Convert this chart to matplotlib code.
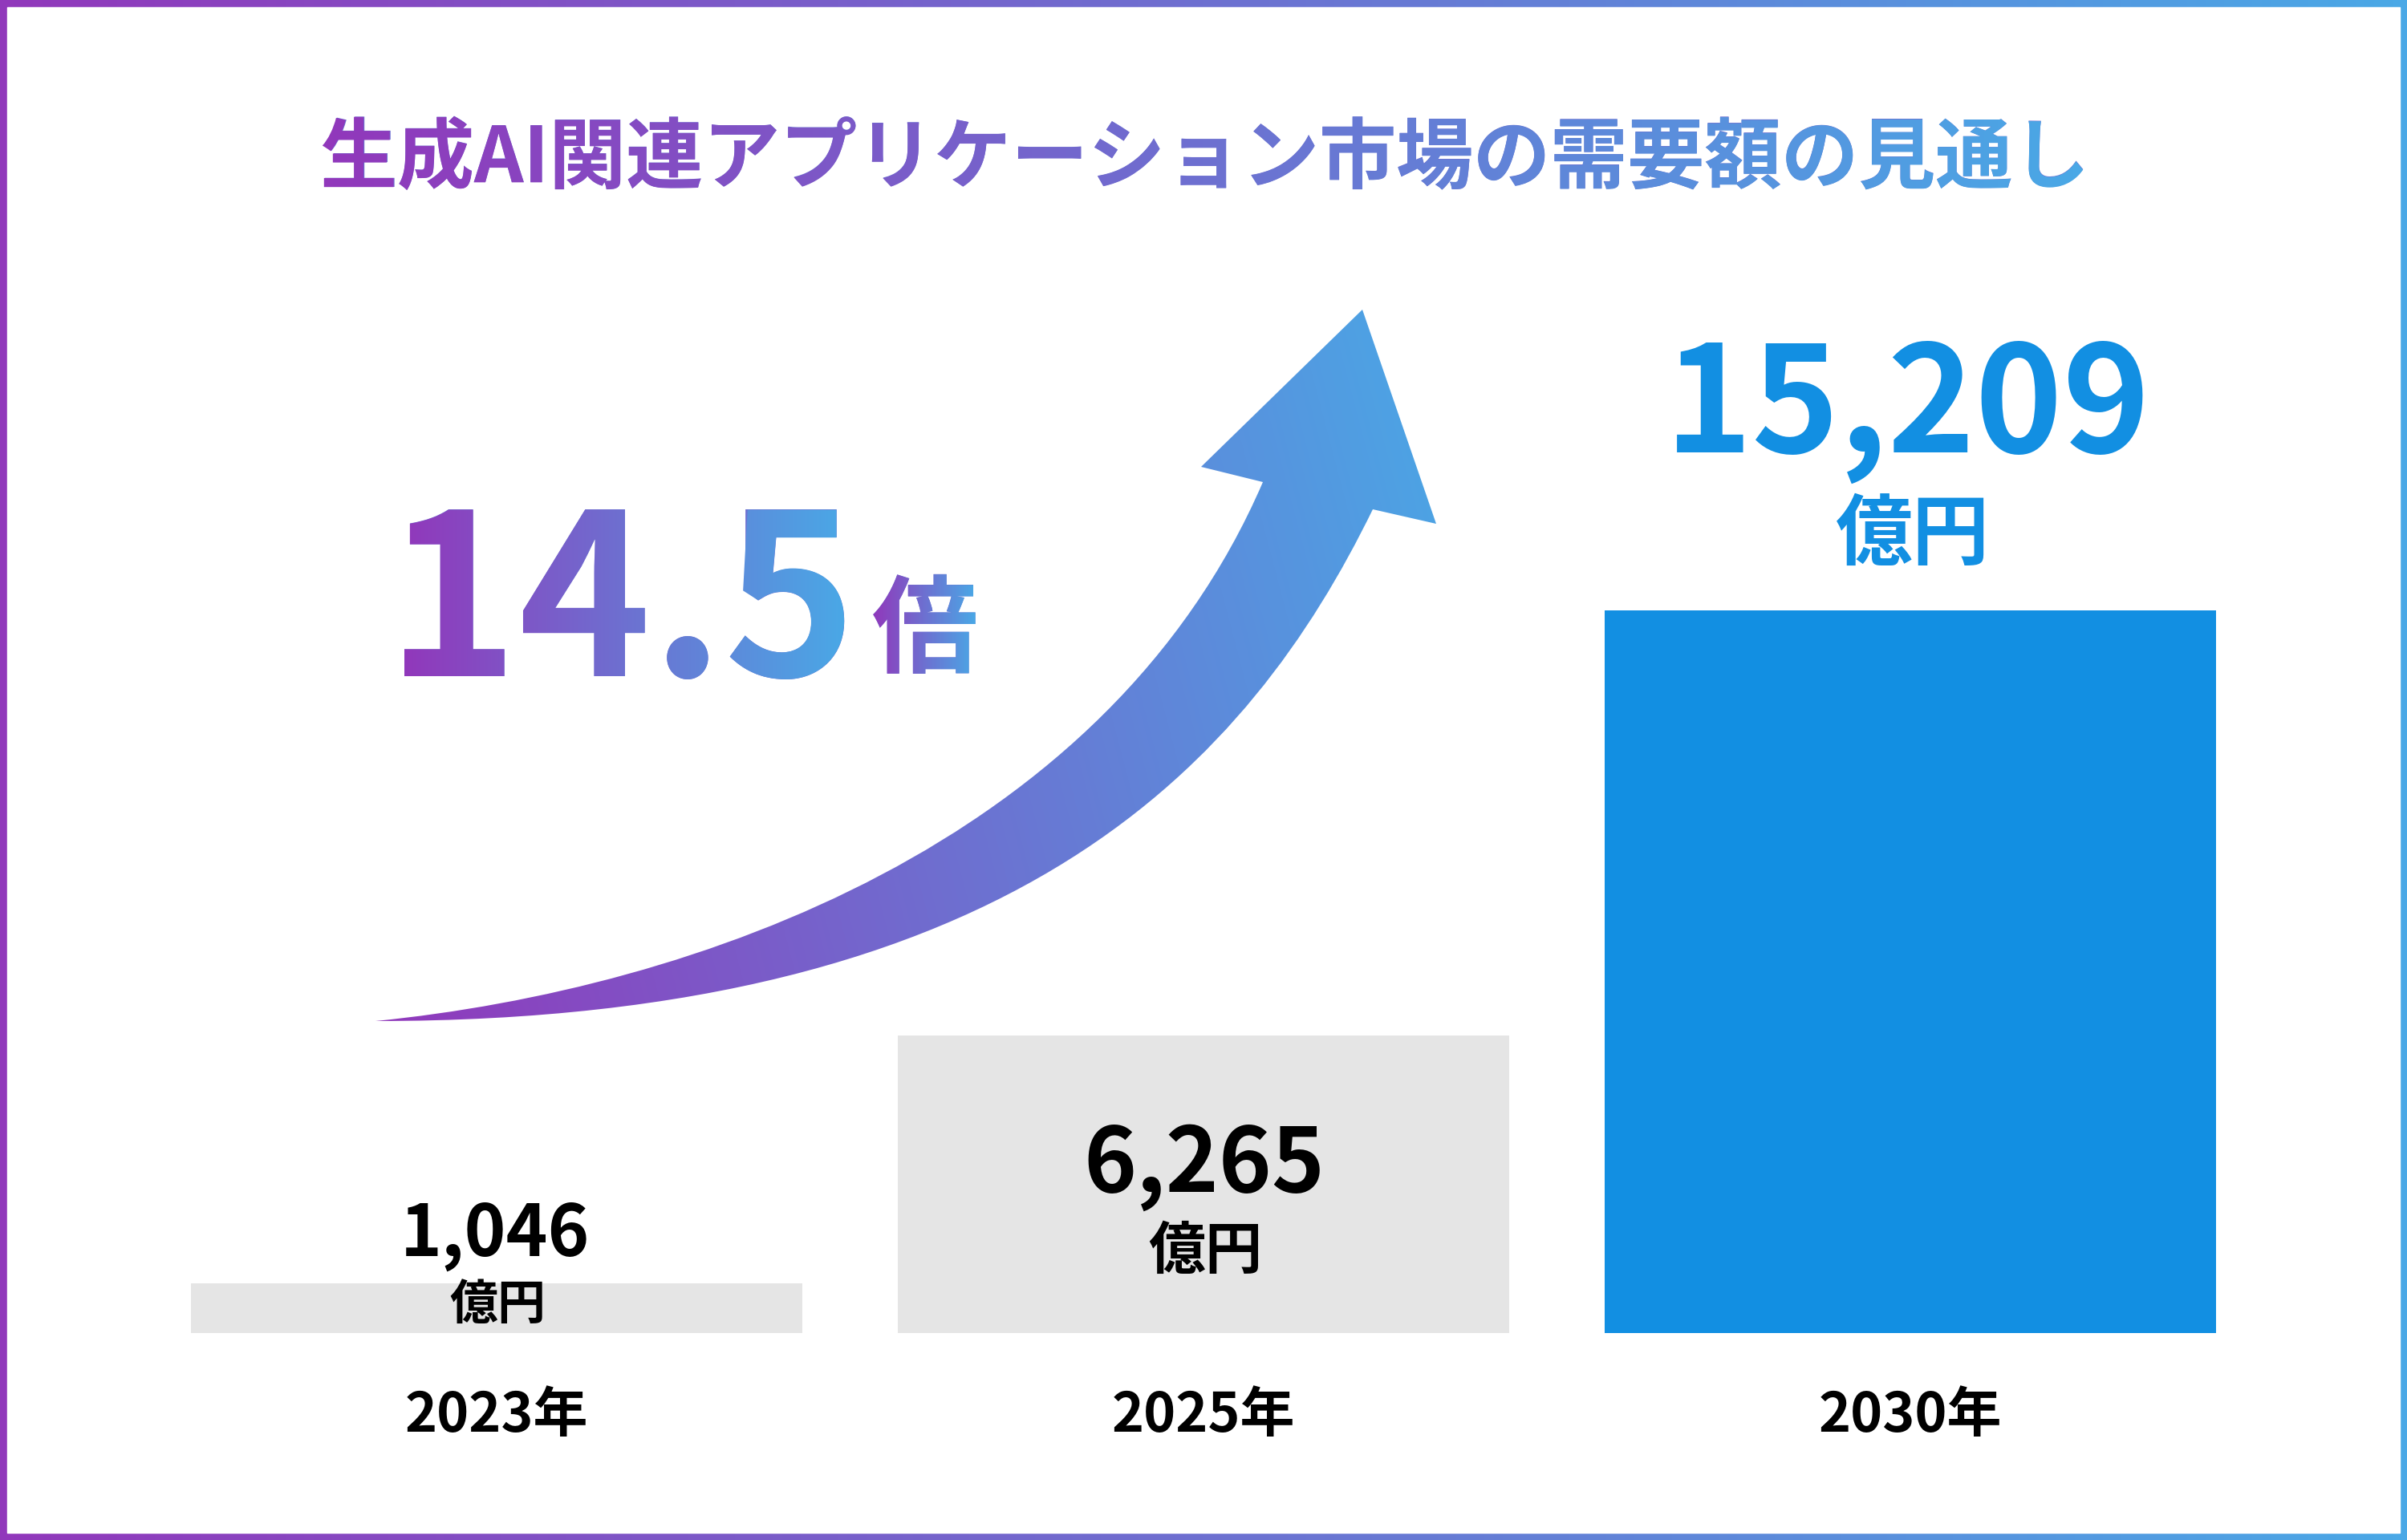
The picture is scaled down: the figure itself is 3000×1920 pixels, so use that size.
import matplotlib
matplotlib.use("Agg")
import matplotlib.pyplot as plt
import numpy as np
from matplotlib.colors import LinearSegmentedColormap
from matplotlib.font_manager import FontProperties
from matplotlib.patches import PathPatch, Rectangle
from matplotlib.path import Path
from matplotlib.textpath import TextPath
from matplotlib.transforms import Affine2D

plt.rcParams["font.family"] = ["Noto Sans CJK JP", "DejaVu Sans"]

# data
title = "生成AI関連アプリケーション市場の需要額の見通し"
years = ["2023年", "2025年", "2030年"]
values = [1046, 6265, 15209]
unit = "億円"

# styles / layout (pixels, y measured upward)
W, H, DPI = 3000, 1920, 100
PURPLE = "#9138BB"
BLUE_END = "#4AA8E6"
BAR_BLUE = "#128FE2"
GREY = "#E5E5E5"
bar_colors = [GREY, GREY, BAR_BLUE]
label_colors = ["black", "black", BAR_BLUE]
num_base = [354, 434, 1356]
num_em = [88, 112, 185]
unit_mid = [298, 365, 1260]
unit_em = [60, 71, 96]
year_base = 135
year_em = 68

grad_cmap = LinearSegmentedColormap.from_list("g", [PURPLE, BLUE_END])
MID = grad_cmap(0.5)

fig = plt.figure(figsize=(W / DPI, H / DPI), dpi=DPI)

# gradient frame
bg = fig.add_axes([0, 0, 1, 1])
bg.imshow(np.linspace(0, 1, 256)[None, :], extent=(0, W, 0, H), cmap=grad_cmap,
          aspect="auto", interpolation="bicubic")
bg.add_patch(Rectangle((9, 9), W - 18, H - 18, color="white"))
bg.set_xlim(0, W)
bg.set_ylim(0, H)
bg.axis("off")

# bars
ax = fig.add_axes([178.5 / W, 258 / H, 2643 / W, 1640 / H])
x = np.arange(len(values))
ax.bar(x, values, width=0.864, color=bar_colors)
ax.set_xlim(-0.5, 2.5)
ax.set_ylim(0, 1640 / (901 / values[-1]))
ax.axis("off")

# overlay in pixel coordinates
ov = fig.add_axes([0, 0, 1, 1])
ov.set_autoscale_on(False)
ov.set_xlim(0, W)
ov.set_ylim(0, H)
ov.axis("off")


def put_text(s, cx, y, em, color=None, grad=False, center=False):
    fp = FontProperties(family="Noto Sans CJK JP", weight="bold", size=em * 72 / DPI)
    tp = TextPath((0, 0), s, size=em, prop=fp)
    bb = tp.get_extents()
    x0 = cx - (bb.x0 + bb.x1) / 2
    y0 = y - (bb.y0 + bb.y1) / 2 if center else y
    ov.text(x0, y0, s, fontproperties=fp, ha="left", va="baseline",
            color=MID if grad else color, zorder=5)
    if grad:
        patch = PathPatch(tp.transformed(Affine2D().translate(x0, y0)),
                          facecolor="none", edgecolor="none")
        ov.add_patch(patch)
        im = ov.imshow(np.linspace(0, 1, 256)[None, :], cmap=grad_cmap, aspect="auto",
                       extent=(x0 + bb.x0, x0 + bb.x1, y0 + bb.y0, y0 + bb.y1),
                       interpolation="bicubic", zorder=6)
        im.set_clip_path(patch)


# title
put_text(title, 1499, 1729, 96, grad=True, center=True)

# growth multiple
put_text(f"{values[-1] / values[0]:.1f}", 778, 1077, 280, grad=True)
put_text("倍", 1152, 1142, 132, grad=True, center=True)

# curved arrow
verts = [(468, 647), (1268, 647), (1557, 970), (1711, 1285),
         (1790, 1267), (1698, 1534), (1497, 1338), (1574, 1319),
         (1380, 869), (868, 687), (468, 647), (468, 647)]
codes = [Path.MOVETO, Path.CURVE4, Path.CURVE4, Path.CURVE4,
         Path.LINETO, Path.LINETO, Path.LINETO, Path.LINETO,
         Path.CURVE4, Path.CURVE4, Path.CURVE4, Path.CLOSEPOLY]
arrow = PathPatch(Path(verts, codes), facecolor="none", edgecolor="none")
ov.add_patch(arrow)
gx, gy = np.meshgrid(np.linspace(0, 1, 256), np.linspace(0, 1, 256))
aim = ov.imshow(0.85 * gx + 0.15 * gy, origin="lower", cmap=grad_cmap, aspect="auto",
                extent=(460, 1800, 640, 1540), interpolation="bicubic", zorder=4)
aim.set_clip_path(arrow)

# value and year labels
for i, v in enumerate(values):
    cx = ax.transData.transform((i, 0))[0]
    put_text(f"{v:,}", cx, num_base[i], num_em[i], color=label_colors[i])
    put_text(unit, cx, unit_mid[i], unit_em[i], color=label_colors[i], center=True)
    put_text(years[i], cx, year_base, year_em, color="black")

fig.savefig("out.png", dpi=DPI)
